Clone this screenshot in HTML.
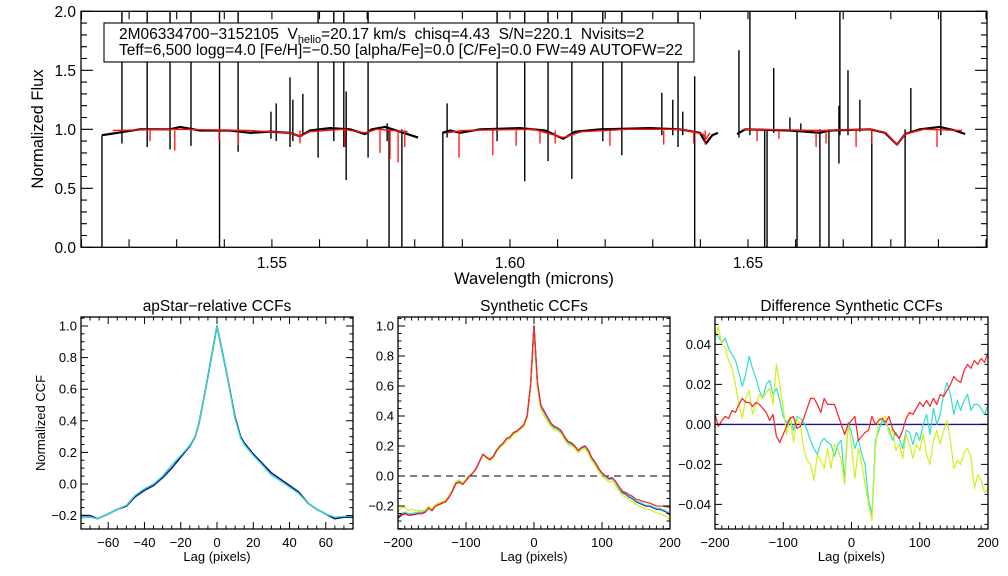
<!DOCTYPE html>
<html><head><meta charset="utf-8"><style>
html,body{margin:0;padding:0;background:#fff;}
svg{display:block;font-family:"Liberation Sans",sans-serif;}
</style></head><body>
<svg id="chart" width="1008" height="576" viewBox="0 0 1008 576" xmlns="http://www.w3.org/2000/svg">
<rect x="0" y="0" width="1008" height="576" fill="#fff"/>
<g id="top"></g>
<g id="p1"></g>
<g id="p2"></g>
<g id="p3"></g>
</svg>
<script>
// ---------- spectrum data ----------
const specSeg1 = [[1.5143,0.95],[1.5160,0.96],[1.5191,0.98],[1.5223,1.0],[1.5286,1.0],[1.5307,1.02],[1.5349,0.99],[1.5412,0.99],[1.5454,0.97],[1.5496,0.98],[1.5538,0.97],[1.5559,0.94],[1.5580,0.99],[1.5622,1.01],[1.5664,1.0],[1.5696,0.96],[1.5710,1.0],[1.5738,1.02],[1.5769,0.98],[1.5807,0.93]];
const specSeg2 = [[1.5859,0.97],[1.5874,0.99],[1.5895,0.97],[1.5937,1.0],[1.6021,1.01],[1.6074,0.99],[1.6112,0.92],[1.6137,0.98],[1.6189,1.0],[1.6294,1.01],[1.6357,1.0],[1.6399,0.97],[1.6412,0.88],[1.6425,0.95],[1.6437,0.97]];
const specSeg3 = [[1.6477,0.96],[1.6494,1.0],[1.6588,0.99],[1.6651,0.97],[1.6672,0.99],[1.6757,1.0],[1.6788,0.97],[1.6813,0.87],[1.6830,0.96],[1.6861,1.0],[1.6903,1.02],[1.6935,0.99],[1.6956,0.96]];
const specSpikes = [[1.5143,0,0.95],[1.5185,0.88,2.1],[1.5238,0.85,2.1],[1.5286,0.83,2.1],[1.5330,0.86,2.1],[1.5390,0,2.1],[1.5429,0.81,2.1],[1.5498,0.92,1.15],[1.5509,0.90,1.22],[1.5538,0.85,1.44],[1.5544,0.9,1.25],[1.5565,0.95,1.3],[1.5597,0.76,2.1],[1.5630,0.9,2.1],[1.5651,0.85,2.1],[1.5656,0.57,1.32],[1.5702,0.76,2.1],[1.5742,0.9,1.05],[1.5746,0,1.0],[1.5773,0,1.0],[1.5859,0,0.98],[1.5868,0.93,1.22],[1.5973,0.9,2.1],[1.6031,0.56,2.1],[1.6080,0.73,2.1],[1.6130,0.58,2.1],[1.6195,0.9,2.1],[1.6235,0.78,2.1],[1.6319,0.95,1.31],[1.6342,0.95,1.25],[1.6353,0.85,2.1],[1.6363,0.95,1.15],[1.6388,0,1.45],[1.6481,0.93,1.67],[1.6504,0.95,2.1],[1.6535,0,1.0],[1.6540,0,1.0],[1.6554,0.97,1.52],[1.6588,0.98,1.1],[1.6603,0,1.0],[1.6611,0.98,1.05],[1.6651,0,1.0],[1.6670,0,1.0],[1.6691,0.71,1.2],[1.6693,0.95,2.1],[1.6710,0.95,1.5],[1.6735,0.98,1.25],[1.6760,0,1.0],[1.6830,0,1.0],[1.6842,0.97,1.35],[1.6905,0.95,2.1]];
const modelSeg1 = [[1.5166,0.99],[1.53,1.0],[1.545,0.99],[1.5538,0.97],[1.5559,0.94],[1.558,0.98],[1.565,1.0],[1.5696,0.97],[1.572,1.0],[1.5785,0.98]];
const modelSeg2 = [[1.5868,0.97],[1.59,0.99],[1.605,1.0],[1.6112,0.93],[1.615,0.98],[1.625,1.0],[1.636,1.0],[1.6405,0.96],[1.6412,0.92],[1.642,0.97]];
const modelSeg3 = [[1.649,1.0],[1.665,0.99],[1.676,1.0],[1.679,0.97],[1.6813,0.87],[1.683,0.96],[1.687,1.0],[1.695,0.99]];
const modelDips = [[1.5244,0.9],[1.5296,0.82],[1.5389,0.9],[1.5429,0.87],[1.5559,0.88],[1.5653,0.85],[1.5727,0.8],[1.5748,0.75],[1.5765,0.72],[1.5779,0.85],[1.5893,0.76],[1.5964,0.78],[1.6013,0.86],[1.6063,0.88],[1.6095,0.88],[1.6210,0.86],[1.6323,0.87],[1.6386,0.88],[1.6410,0.87],[1.6519,0.9],[1.6565,0.92],[1.6643,0.85],[1.6664,0.88],[1.6727,0.85],[1.6760,0.88],[1.6897,0.85]];
const specYTicks = ["0.0","0.5","1.0","1.5","2.0"];
const specXTicks = ["1.55","1.60","1.65"];

// ---------- apStar CCF data ----------
const ccf1Lags = [-75,-70,-66,-60,-55,-50,-45,-40,-35,-30,-25,-20,-15,-12,-10,-5,0,5,10,13,15,20,25,30,35,40,45,50,55,60,65,70,75];
const ccf1Blue = [-0.20,-0.20,-0.22,-0.19,-0.16,-0.14,-0.08,-0.04,-0.01,0.04,0.10,0.17,0.24,0.30,0.38,0.68,1.0,0.72,0.42,0.30,0.26,0.19,0.13,0.07,0.03,-0.01,-0.05,-0.12,-0.16,-0.19,-0.22,-0.21,-0.21];
const ccf1Cyan = [-0.215,-0.21,-0.22,-0.19,-0.16,-0.135,-0.07,-0.03,0.0,0.05,0.12,0.18,0.245,0.30,0.38,0.68,1.0,0.72,0.41,0.29,0.25,0.18,0.12,0.055,0.02,-0.02,-0.06,-0.12,-0.16,-0.19,-0.21,-0.205,-0.205];
const ccf1XTicks = ["-60","-40","-20","0","20","40","60"];
const ccf1YTicks = ["-0.2","0.0","0.2","0.4","0.6","0.8","1.0"];

// ---------- synthetic CCF data (lags -200..200 step 5) ----------
const synLags = [-200,-195,-190,-185,-180,-175,-170,-165,-160,-155,-150,-145,-140,-135,-130,-125,-120,-115,-110,-105,-100,-95,-90,-85,-80,-75,-70,-65,-60,-55,-50,-45,-40,-35,-30,-25,-20,-15,-10,-5,0,5,10,15,20,25,30,35,40,45,50,55,60,65,70,75,80,85,90,95,100,105,110,115,120,125,130,135,140,145,150,155,160,165,170,175,180,185,190,195,200];
const synBlue = [-0.28,-0.26,-0.25,-0.26,-0.26,-0.255,-0.25,-0.25,-0.24,-0.21,-0.23,-0.2,-0.19,-0.18,-0.17,-0.14,-0.1,-0.05,-0.04,-0.055,-0.03,0.0,0.02,0.05,0.1,0.145,0.125,0.11,0.13,0.17,0.2,0.22,0.25,0.26,0.29,0.3,0.32,0.34,0.4,0.6,1.0,0.62,0.47,0.43,0.39,0.35,0.33,0.32,0.3,0.26,0.23,0.22,0.2,0.17,0.19,0.2,0.17,0.12,0.09,0.05,0.02,0.0,-0.02,-0.015,-0.04,-0.08,-0.11,-0.12,-0.14,-0.15,-0.17,-0.18,-0.19,-0.2,-0.2,-0.21,-0.22,-0.22,-0.23,-0.24,-0.26];
const synCyan = [-0.27,-0.25,-0.24,-0.25,-0.25,-0.245,-0.24,-0.24,-0.235,-0.205,-0.225,-0.195,-0.185,-0.175,-0.165,-0.135,-0.095,-0.045,-0.035,-0.05,-0.025,0.005,0.02,0.05,0.1,0.145,0.12,0.105,0.125,0.165,0.195,0.215,0.245,0.255,0.285,0.295,0.315,0.335,0.395,0.6,0.99,0.61,0.46,0.42,0.38,0.34,0.32,0.31,0.29,0.25,0.22,0.21,0.195,0.165,0.185,0.195,0.165,0.115,0.085,0.045,0.015,-0.005,-0.025,-0.02,-0.04,-0.08,-0.105,-0.115,-0.135,-0.145,-0.165,-0.175,-0.185,-0.195,-0.195,-0.205,-0.215,-0.215,-0.225,-0.235,-0.25];
const synYellow = [-0.24,-0.21,-0.21,-0.23,-0.22,-0.23,-0.23,-0.23,-0.225,-0.2,-0.22,-0.19,-0.18,-0.17,-0.16,-0.13,-0.09,-0.035,-0.025,-0.045,-0.02,0.005,0.02,0.05,0.1,0.145,0.115,0.1,0.12,0.16,0.19,0.21,0.24,0.25,0.28,0.29,0.31,0.33,0.39,0.59,0.98,0.6,0.44,0.4,0.36,0.33,0.305,0.3,0.28,0.24,0.21,0.2,0.185,0.155,0.175,0.185,0.15,0.1,0.07,0.03,0.0,-0.02,-0.04,-0.035,-0.06,-0.1,-0.13,-0.14,-0.16,-0.17,-0.19,-0.2,-0.21,-0.22,-0.225,-0.235,-0.245,-0.25,-0.26,-0.27,-0.29];
const synRed = [-0.27,-0.255,-0.25,-0.26,-0.26,-0.255,-0.25,-0.25,-0.24,-0.215,-0.23,-0.2,-0.19,-0.18,-0.17,-0.14,-0.1,-0.05,-0.04,-0.055,-0.03,0.0,0.02,0.05,0.1,0.145,0.125,0.11,0.13,0.17,0.2,0.22,0.25,0.26,0.29,0.3,0.32,0.34,0.4,0.61,1.0,0.62,0.47,0.43,0.39,0.35,0.33,0.32,0.3,0.26,0.23,0.22,0.2,0.17,0.19,0.2,0.17,0.12,0.09,0.05,0.02,0.0,-0.015,-0.01,-0.035,-0.07,-0.1,-0.11,-0.125,-0.135,-0.155,-0.16,-0.17,-0.175,-0.18,-0.19,-0.2,-0.2,-0.2,-0.205,-0.21];
const synXTicks = ["-200","-100","0","100","200"];
const synYTicks = ["-0.2","0.0","0.2","0.4","0.6","0.8","1.0"];

// ---------- difference CCF data (same lags) ----------
const diffRed = [0.005,-0.001,0.002,0.004,0.003,0.007,0.006,0.01,0.013,0.011,0.011,0.009,0.011,0.01,0.008,0.006,0.002,0.005,-0.006,-0.009,-0.005,-0.001,0.003,0.004,-0.002,-0.001,0.003,0.008,0.013,0.013,0.01,0.006,0.013,0.01,0.01,0.01,0.005,0.0,-0.005,0.0,0.002,0.004,-0.008,-0.006,-0.004,-0.003,0.004,0.0,0.002,0.003,0.001,0.004,-0.002,-0.005,-0.007,-0.003,0.003,0.006,0.005,0.008,0.011,0.009,0.012,0.009,0.013,0.01,0.015,0.014,0.017,0.02,0.024,0.022,0.021,0.027,0.03,0.028,0.032,0.03,0.033,0.031,0.036];
const diffCyan = [0.046,0.044,0.041,0.043,0.038,0.035,0.032,0.026,0.019,0.025,0.034,0.028,0.023,0.017,0.013,0.02,0.022,0.015,0.018,0.012,0.004,0.001,0.003,-0.003,0.004,0.003,0.001,-0.003,-0.008,-0.012,-0.015,-0.009,-0.007,-0.009,-0.01,-0.016,-0.01,-0.008,-0.028,0.001,-0.004,-0.012,-0.007,-0.015,-0.02,-0.038,-0.045,-0.008,-0.003,0.002,0.0,-0.002,-0.008,-0.004,-0.007,-0.012,-0.003,-0.004,-0.01,-0.004,-0.008,0.0,0.005,-0.005,0.008,0.0,0.005,0.015,0.021,0.015,0.005,0.012,0.007,0.012,0.015,0.007,0.01,0.01,0.008,0.005,0.01];
const diffYellow = [0.042,0.049,0.04,0.038,0.032,0.028,0.02,0.01,0.003,0.013,0.017,0.005,0.01,0.015,0.013,0.016,0.018,0.01,0.03,0.02,0.008,-0.005,0.004,-0.009,0.003,0.0,-0.012,-0.018,-0.02,-0.028,-0.015,-0.018,-0.022,-0.012,-0.022,-0.01,-0.012,-0.018,-0.03,0.0,-0.01,-0.027,-0.012,-0.02,-0.03,-0.04,-0.048,-0.012,0.003,0.003,0.004,-0.005,-0.002,-0.013,-0.01,-0.017,-0.005,-0.01,-0.017,-0.01,-0.013,-0.005,-0.015,-0.02,-0.008,-0.003,-0.01,-0.003,0.002,-0.008,-0.022,-0.018,-0.02,-0.014,-0.012,-0.016,-0.032,-0.025,-0.028,-0.034,-0.032];
const diffZero = [0,0];
const diffZeroLags = [-200,200];
const diffXTicks = ["-200","-100","0","100","200"];
const diffYTicks = ["-0.04","-0.02","0.00","0.02","0.04"];

const NS = "http://www.w3.org/2000/svg";
function mk(tag, attrs, parent){
  const e = document.createElementNS(NS, tag);
  for (const k in attrs) e.setAttribute(k, attrs[k]);
  parent.appendChild(e);
  return e;
}
function scale(d0,d1,r0,r1){ return v => r0 + (v-d0)*(r1-r0)/(d1-d0); }
function txt(parent, x, y, s, size, anchor, name){
  const t = mk('text', {x:x, y:y, 'font-size':size, 'text-anchor':anchor, fill:'#000'}, parent);
  t.textContent = s;
  
  
  return t;
}
function frame(g, L, T, R, B, name){
  const r = mk('rect', {x:L, y:T, width:R-L, height:B-T, fill:'none', stroke:'#000', 'stroke-width':1.3}, g);
  
  
}
function ticksX(g, xs, T, B, lo, hi, step, len){
  let d = '';
  for (let v = lo; v <= hi + step*1e-6; v += step){
    const x = xs(v).toFixed(2);
    d += `M${x} ${B}V${B-len}M${x} ${T}V${T+len}`;
  }
  return d;
}
function ticksY(g, ys, L, R, lo, hi, step, len){
  let d = '';
  for (let v = lo; v <= hi + step*1e-6; v += step){
    const y = ys(v).toFixed(2);
    d += `M${L} ${y}H${L+len}M${R} ${y}H${R-len}`;
  }
  return d;
}
function line(g, xs, ys, X, Y, color, w, name){
  const n = Math.min(X.length, Y.length);
  let d = '';
  for (let i = 0; i < n; i++) d += (i ? 'L' : 'M') + xs(X[i]).toFixed(2) + ' ' + ys(Y[i]).toFixed(2);
  const p = mk('path', {d:d, fill:'none', stroke:color, 'stroke-width':w, 'stroke-linejoin':'round'}, g);
  
  
  return p;
}

// ================= TOP SPECTRUM =================
(function(){
  const g = document.getElementById('top');
  const L = 81, R = 987, T = 11.3, B = 247.3;
  const xs = scale(1.5099, 1.7002, L, R), ys = scale(0, 2, B, T);
  const cp = mk('clipPath', {id:'clipTop'}, g);
  mk('rect', {x:L, y:T, width:R-L, height:B-T}, cp);
  const data = mk('g', {'clip-path':'url(#clipTop)'}, g);
  
  
  [specSeg1, specSeg2, specSeg3].forEach((seg, i) => {
    line(data, xs, ys, seg.map(p=>p[0]), seg.map(p=>p[1]), '#000', 2.2, 'observed-spectrum-segment-' + (i+1));
  });
  let d = '';
  specSpikes.forEach(s => { const x = xs(s[0]).toFixed(2); d += `M${x} ${ys(s[1]).toFixed(2)}V${ys(s[2]).toFixed(2)}`; });
  const sp = mk('path', {d:d, stroke:'#000', 'stroke-width':1.4, fill:'none'}, data);
  
  
  [modelSeg1, modelSeg2, modelSeg3].forEach((seg, i) => {
    line(data, xs, ys, seg.map(p=>p[0]), seg.map(p=>p[1]), '#ff1010', 1.4, 'model-spectrum-segment-' + (i+1));
  });
  let dd = '';
  modelDips.forEach(s => { const x = xs(s[0]).toFixed(2); dd += `M${x} ${ys(0.99).toFixed(2)}V${ys(s[1]).toFixed(2)}`; });
  const md = mk('path', {d:dd, stroke:'#ff1010', 'stroke-width':1.3, fill:'none'}, data);
  
  

  frame(g, L, T, R, B, 'spectrum-plot-frame');
  let td = ticksX(g, xs, T, B, 1.51, 1.70, 0.01, 8);
  td += ticksY(g, ys, L, R, 0, 2, 0.5, 12);
  td += ticksY(g, ys, L, R, 0, 2, 0.1, 6);
  const tk = mk('path', {d:td, stroke:'#000', 'stroke-width':1.1, fill:'none'}, g);
  
  
  specYTicks.forEach(s => txt(g, 76, ys(parseFloat(s)) + 5.5, s, 15.5, 'end', 'y-tick-label'));
  specXTicks.forEach(s => txt(g, xs(parseFloat(s)), 268, s, 15.5, 'middle', 'x-tick-label'));
  const yl = txt(g, 0, 0, 'Normalized Flux', 16.5, 'middle', 'y-axis-title');
  yl.setAttribute('transform', 'translate(43,129) rotate(-90)');
  txt(g, 534, 284, 'Wavelength (microns)', 16.5, 'middle', 'x-axis-title');

  const box = mk('rect', {x:104, y:23, width:590, height:39, fill:'#fff', stroke:'#000', 'stroke-width':1.1}, g);
  
  
  const t1 = mk('text', {x:119, y:39, 'font-size':15.5, fill:'#000', style:'white-space:pre'}, g);
  
  
  t1.innerHTML = '2M06334700\u22123152105  V<tspan font-size="11" dy="4">helio</tspan><tspan dy="-4">=20.17 km/s  chisq=4.43  S/N=220.1  Nvisits=2</tspan>';
  const t2 = txt(g, 119, 55, 'Teff=6,500 logg=4.0 [Fe/H]=\u22120.50 [alpha/Fe]=0.0 [C/Fe]=0.0 FW=49 AUTOFW=22', 15.5, 'start', 'info-line-2');
})();

function ccfPanel(id, L, R, xd, yd, xMaj, xMin, yMaj, yMin, xTicks, yTicks, title){
  const g = document.getElementById(id);
  const T = 317, B = 529;
  const xs = scale(xd[0], xd[1], L, R), ys = scale(yd[0], yd[1], B, T);
  const cp = mk('clipPath', {id:'clip'+id}, g);
  mk('rect', {x:L, y:T, width:R-L, height:B-T}, cp);
  const data = mk('g', {'clip-path':'url(#clip'+id+')'}, g);
  
  
  frame(g, L, T, R, B, id + '-frame');
  let td = ticksX(g, xs, T, B, Math.ceil(xd[0]/xMaj)*xMaj, xd[1], xMaj, 7);
  td += ticksX(g, xs, T, B, Math.ceil(xd[0]/xMin)*xMin, xd[1], xMin, 3.5);
  td += ticksY(g, ys, L, R, Math.ceil(yd[0]/yMaj-1e-9)*yMaj, yd[1], yMaj, 7);
  td += ticksY(g, ys, L, R, Math.ceil(yd[0]/yMin-1e-9)*yMin, yd[1], yMin, 3.5);
  const tk = mk('path', {d:td, stroke:'#000', 'stroke-width':1, fill:'none'}, g);
  
  
  xTicks.forEach(s => txt(g, xs(parseFloat(s)), 547, s.replace('-','\u2212'), 13, 'middle', 'x-tick-label'));
  yTicks.forEach(s => txt(g, L - 4, ys(parseFloat(s)) + 4.5, s.replace('-','\u2212'), 13, 'end', 'y-tick-label'));
  txt(g, (L+R)/2, 311, title, 15.5, 'middle', 'panel-title');
  txt(g, (L+R)/2, 561, 'Lag (pixels)', 13, 'middle', 'x-axis-title');
  return {data, xs, ys};
}

// ================= PANEL 1 =================
(function(){
  const p = ccfPanel('p1', 81, 353, [-75, 75], [-0.285, 1.057], 20, 5, 0.2, 0.05, ccf1XTicks, ccf1YTicks, 'apStar\u2212relative CCFs');
  line(p.data, p.xs, p.ys, ccf1Lags, ccf1Blue, '#1a1490', 1.6, 'ccf-visit-1');
  line(p.data, p.xs, p.ys, ccf1Lags, ccf1Cyan, '#30e0c8', 1.3, 'ccf-visit-2');
  const yl = txt(document.getElementById('p1'), 0, 0, 'Normalized CCF', 13, 'middle', 'y-axis-title');
  yl.setAttribute('transform', 'translate(45,423) rotate(-90)');
})();

// ================= PANEL 2 =================
(function(){
  const p = ccfPanel('p2', 398, 670, [-200, 200], [-0.353, 1.06], 100, 10, 0.2, 0.05, synXTicks, synYTicks, 'Synthetic CCFs');
  const z = mk('line', {x1:398, x2:670, y1:p.ys(0), y2:p.ys(0), stroke:'#000', 'stroke-width':1, 'stroke-dasharray':'7,5'}, p.data);
  
  
  line(p.data, p.xs, p.ys, synLags, synBlue, '#1a1490', 1.5, 'synthetic-ccf-blue');
  line(p.data, p.xs, p.ys, synLags, synCyan, '#30e0c8', 1.2, 'synthetic-ccf-cyan');
  line(p.data, p.xs, p.ys, synLags, synYellow, '#d0f020', 1.2, 'synthetic-ccf-yellow');
  line(p.data, p.xs, p.ys, synLags, synRed, '#ff2020', 1.2, 'synthetic-ccf-red');
})();

// ================= PANEL 3 =================
(function(){
  const p = ccfPanel('p3', 715, 988, [-200, 200], [-0.0523, 0.0537], 100, 10, 0.02, 0.005, diffXTicks, diffYTicks, 'Difference Synthetic CCFs');
  line(p.data, p.xs, p.ys, diffZeroLags, diffZero, '#1a1490', 1.4, 'difference-zero-blue');
  line(p.data, p.xs, p.ys, synLags, diffCyan, '#30e0c8', 1.2, 'difference-ccf-cyan');
  line(p.data, p.xs, p.ys, synLags, diffYellow, '#d0f020', 1.2, 'difference-ccf-yellow');
  line(p.data, p.xs, p.ys, synLags, diffRed, '#ff2020', 1.2, 'difference-ccf-red');
})();
</script>
</body></html>
